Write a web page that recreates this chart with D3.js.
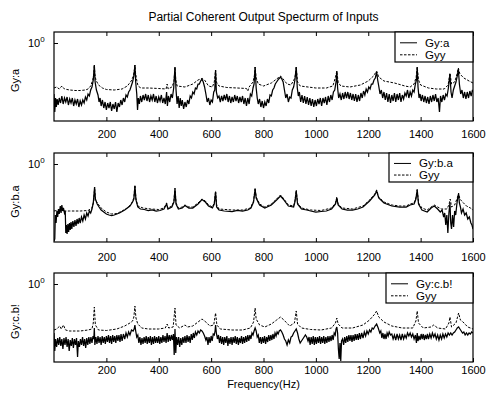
<!DOCTYPE html>
<html><head><meta charset="utf-8">
<script src="https://cdn.jsdelivr.net/npm/d3@7"></script>
<style>body{margin:0;background:#fff}text{font-family:"Liberation Sans",Arial,sans-serif;fill:#000}</style>
</head><body><svg id="c" width="487" height="400"></svg>
<script>
const chartTitle = "Partial Coherent Output Specturm of Inputs";
const xLabel = "Frequency(Hz)";
const xTicks = [200,400,600,800,1000,1200,1400,1600];
const yLabels = ["Gy:a","Gy:b.a","Gy:c.b!"];
const legendNames = [["Gy:a","Gyy"],["Gy:b.a","Gyy"],["Gy:c.b!","Gyy"]];
// spectra in dB re 1 (magnitude = 10^(dB/20)), [frequency Hz, dB]
const gyA = [[0,-10.2],[3,-13.8],[6,-11.0],[9,-12.8],[12,-11.2],[16,-12.4],[20,-11.0],[25,-12.0],[30,-10.6],[35,-12.2],[40,-11.0],[45,-11.8],[50,-10.8],[55,-12.4],[60,-11.2],[65,-12.0],[70,-11.0],[75,-12.6],[80,-11.4],[85,-12.2],[90,-11.2],[95,-12.8],[100,-11.6],[105,-12.4],[110,-11.4],[115,-12.0],[120,-10.8],[125,-11.4],[130,-10.2],[135,-10.6],[140,-9.4],[145,-8.8],[150,-7.4],[154,-4.4],[157,-7.8],[162,-9.4],[168,-10.4],[172,-11.8],[176,-11.0],[180,-12.6],[185,-11.4],[190,-13.0],[195,-11.8],[200,-13.4],[205,-12.0],[210,-13.0],[215,-11.8],[220,-13.6],[225,-12.2],[230,-13.2],[235,-11.8],[240,-13.8],[245,-12.0],[250,-12.8],[255,-11.4],[260,-12.4],[265,-11.0],[270,-11.8],[275,-10.4],[280,-10.8],[285,-9.8],[290,-9.4],[295,-8.6],[300,-7.8],[305,-6.6],[309,-4.4],[312,-7.8],[316,-10.2],[319,-13.4],[322,-11.0],[326,-12.2],[330,-10.6],[335,-11.8],[340,-10.4],[345,-11.4],[350,-10.2],[355,-11.6],[360,-10.4],[365,-11.8],[370,-10.6],[375,-11.4],[380,-10.2],[385,-11.8],[390,-10.6],[395,-12.0],[400,-10.8],[405,-11.6],[410,-10.4],[415,-12.0],[420,-11.0],[425,-12.2],[430,-9.8],[433,-12.6],[437,-10.6],[442,-11.8],[447,-10.2],[452,-11.0],[457,-9.0],[462,-4.8],[466,-9.4],[470,-12.2],[474,-10.6],[478,-13.0],[482,-11.0],[486,-12.6],[490,-11.4],[495,-13.2],[500,-11.8],[505,-12.8],[510,-11.4],[515,-12.2],[520,-10.6],[525,-11.0],[530,-9.8],[535,-10.2],[540,-9.0],[545,-9.2],[550,-8.2],[555,-8.2],[560,-7.6],[565,-7.2],[570,-7.8],[575,-8.8],[580,-10.2],[585,-11.8],[590,-11.0],[595,-12.4],[600,-11.4],[605,-11.8],[610,-9.8],[614,-9.4],[617,-5.4],[620,-9.8],[625,-11.0],[630,-10.6],[635,-11.8],[640,-10.6],[645,-11.6],[650,-10.4],[655,-11.4],[660,-10.2],[665,-11.8],[670,-10.6],[675,-12.0],[680,-10.8],[685,-11.8],[690,-10.4],[695,-11.6],[700,-10.6],[705,-12.0],[710,-10.8],[715,-11.8],[720,-10.6],[725,-12.2],[730,-11.0],[735,-12.6],[740,-11.0],[745,-12.2],[750,-10.2],[755,-10.6],[760,-9.0],[764,-8.2],[768,-4.8],[772,-9.0],[776,-11.0],[780,-12.2],[785,-11.2],[790,-12.8],[795,-11.6],[800,-13.0],[805,-11.8],[810,-12.6],[815,-11.2],[820,-12.0],[825,-10.4],[830,-10.6],[835,-9.4],[840,-9.0],[845,-8.2],[850,-7.8],[858,-7.2],[865,-6.8],[870,-7.2],[875,-7.8],[880,-9.4],[885,-11.0],[890,-10.2],[895,-11.8],[900,-10.8],[905,-11.0],[910,-9.4],[915,-8.8],[920,-7.4],[925,-4.8],[929,-9.0],[933,-10.6],[937,-9.8],[942,-11.8],[947,-10.4],[952,-12.0],[957,-10.6],[962,-12.2],[967,-10.8],[972,-12.4],[977,-11.0],[982,-12.6],[987,-11.2],[992,-12.8],[997,-11.4],[1002,-12.6],[1007,-11.2],[1012,-12.2],[1017,-11.0],[1022,-12.6],[1027,-11.0],[1032,-12.0],[1037,-10.8],[1042,-12.4],[1047,-10.6],[1052,-11.8],[1057,-10.4],[1062,-11.4],[1067,-9.8],[1072,-9.4],[1077,-7.8],[1080,-5.6],[1083,-9.0],[1087,-11.0],[1092,-10.2],[1097,-11.4],[1102,-10.0],[1107,-11.2],[1112,-9.8],[1117,-11.0],[1122,-9.8],[1127,-11.2],[1132,-10.0],[1137,-11.4],[1142,-10.2],[1147,-11.6],[1152,-10.2],[1157,-11.8],[1162,-10.4],[1167,-11.6],[1172,-10.0],[1177,-11.0],[1182,-9.6],[1187,-10.4],[1192,-9.2],[1197,-9.8],[1202,-8.8],[1207,-9.2],[1212,-8.2],[1217,-8.2],[1222,-7.4],[1227,-7.0],[1232,-5.8],[1236,-7.4],[1240,-8.6],[1245,-10.2],[1250,-9.4],[1255,-11.0],[1260,-9.8],[1265,-11.4],[1270,-10.0],[1275,-11.8],[1280,-10.2],[1285,-12.0],[1290,-10.4],[1295,-11.6],[1300,-10.0],[1305,-11.8],[1310,-10.2],[1315,-11.4],[1320,-10.0],[1325,-11.8],[1330,-10.4],[1335,-11.2],[1340,-10.0],[1345,-10.6],[1350,-9.4],[1355,-11.0],[1360,-9.8],[1365,-10.6],[1370,-9.4],[1375,-9.8],[1380,-8.2],[1384,-7.4],[1387,-4.8],[1390,-8.8],[1394,-11.0],[1398,-10.2],[1402,-11.6],[1407,-10.4],[1412,-11.8],[1417,-10.6],[1422,-12.0],[1427,-10.8],[1432,-12.2],[1437,-10.6],[1442,-11.8],[1447,-10.4],[1452,-11.6],[1457,-10.2],[1462,-11.8],[1467,-11.0],[1472,-13.8],[1476,-10.6],[1481,-11.8],[1486,-10.4],[1491,-11.4],[1496,-10.2],[1501,-10.6],[1506,-9.0],[1512,-6.2],[1516,-9.8],[1520,-11.0],[1525,-9.4],[1530,-8.6],[1535,-7.8],[1540,-6.6],[1544,-5.2],[1548,-8.2],[1553,-10.2],[1558,-9.4],[1563,-11.0],[1568,-9.8],[1573,-11.2],[1578,-9.8],[1583,-11.0],[1588,-9.6],[1593,-10.6],[1598,-9.4],[1600,-9.8]];
const gyyA = [[0,-9.0],[10,-8.8],[20,-9.2],[30,-8.6],[40,-9.2],[60,-9.4],[80,-9.5],[100,-9.5],[120,-9.4],[130,-9.2],[140,-8.6],[148,-7.4],[152,-6.2],[154,-4.4],[156,-6.2],[160,-7.4],[170,-8.4],[185,-9.0],[200,-9.3],[230,-9.4],[260,-9.2],[280,-8.6],[295,-7.6],[303,-6.6],[307,-5.4],[309,-4.4],[311,-5.8],[315,-7.2],[320,-8.4],[330,-9.0],[360,-9.0],[400,-9.1],[428,-9.2],[432,-8.2],[436,-9.2],[450,-8.8],[458,-7.8],[462,-4.8],[465,-7.4],[470,-8.6],[500,-8.8],[530,-8.2],[550,-7.4],[565,-7.1],[575,-7.4],[590,-8.6],[605,-8.8],[612,-7.8],[617,-5.4],[620,-7.8],[630,-8.6],[660,-8.9],[700,-9.0],[735,-9.1],[740,-9.6],[745,-8.8],[760,-7.8],[765,-6.6],[768,-4.8],[772,-7.0],[780,-8.2],[800,-8.6],[830,-8.0],[850,-7.2],[865,-6.6],[875,-7.2],[890,-8.2],[905,-8.4],[920,-7.0],[925,-4.8],[930,-7.8],[940,-8.6],[970,-8.8],[1000,-9.0],[1040,-9.0],[1065,-8.6],[1075,-6.8],[1080,-5.6],[1085,-7.8],[1095,-8.6],[1130,-8.8],[1170,-8.4],[1200,-7.6],[1220,-6.6],[1232,-5.6],[1240,-6.8],[1260,-7.6],[1300,-8.0],[1340,-8.6],[1360,-8.8],[1375,-8.2],[1383,-6.8],[1387,-4.8],[1392,-7.4],[1400,-8.4],[1430,-9.0],[1460,-9.2],[1490,-9.2],[1505,-8.4],[1512,-6.0],[1518,-8.2],[1530,-7.8],[1538,-6.4],[1544,-5.0],[1550,-6.2],[1565,-7.0],[1585,-7.6],[1600,-8.0]];
const gyBA = [[0,-15.4],[3,-15.0],[5,-10.2],[8,-11.8],[11,-9.4],[14,-10.6],[17,-9.0],[20,-10.0],[24,-8.4],[27,-9.8],[30,-8.2],[33,-9.4],[36,-8.8],[40,-9.8],[43,-9.4],[45,-13.8],[47,-12.2],[50,-14.0],[53,-12.0],[56,-13.6],[59,-11.8],[62,-13.2],[65,-11.6],[68,-13.0],[72,-11.4],[76,-12.6],[80,-11.2],[84,-12.4],[88,-11.0],[92,-12.0],[96,-10.8],[100,-11.8],[105,-10.6],[110,-11.4],[115,-10.2],[120,-11.0],[125,-9.8],[130,-10.4],[135,-9.4],[140,-9.8],[145,-9.0],[150,-7.8],[155,-4.6],[158,-7.0],[165,-8.0],[172,-8.6],[180,-9.2],[190,-9.6],[200,-10.0],[210,-10.2],[220,-10.3],[230,-10.2],[240,-10.0],[250,-9.8],[260,-9.5],[270,-9.2],[280,-8.8],[290,-8.4],[300,-7.6],[305,-7.0],[309,-4.4],[313,-7.2],[320,-8.6],[330,-9.0],[345,-9.1],[360,-9.3],[375,-9.2],[390,-9.4],[405,-9.3],[420,-9.0],[430,-8.0],[435,-9.0],[450,-8.6],[458,-7.6],[462,-5.0],[466,-8.0],[475,-9.0],[490,-8.8],[500,-8.3],[515,-8.8],[530,-8.8],[550,-8.0],[565,-7.1],[578,-7.6],[590,-8.4],[605,-8.8],[612,-8.0],[617,-5.6],[621,-8.6],[630,-9.2],[650,-9.4],[680,-9.5],[700,-9.3],[720,-9.4],[740,-9.2],[752,-8.8],[762,-7.6],[768,-5.0],[772,-6.8],[785,-8.2],[805,-8.8],[830,-8.2],[850,-7.2],[865,-6.4],[875,-7.0],[895,-8.4],[915,-8.6],[920,-7.6],[925,-5.4],[930,-8.0],[945,-9.0],[965,-9.2],[980,-9.4],[1000,-9.6],[1020,-9.5],[1040,-9.4],[1060,-9.0],[1075,-8.0],[1080,-6.8],[1085,-8.2],[1100,-9.0],[1120,-9.2],[1140,-9.2],[1160,-9.0],[1180,-8.6],[1205,-7.4],[1225,-6.2],[1232,-5.4],[1240,-6.8],[1260,-7.8],[1290,-8.4],[1320,-8.6],[1345,-8.6],[1360,-8.2],[1375,-8.0],[1382,-7.0],[1387,-5.2],[1392,-8.0],[1405,-9.2],[1425,-9.6],[1440,-8.8],[1452,-8.4],[1465,-9.0],[1475,-9.6],[1482,-9.2],[1488,-10.6],[1492,-9.8],[1496,-12.2],[1500,-10.2],[1504,-13.8],[1508,-9.8],[1512,-7.8],[1515,-11.8],[1518,-13.0],[1522,-10.2],[1526,-12.6],[1530,-9.4],[1534,-10.2],[1538,-8.2],[1542,-6.6],[1545,-6.0],[1548,-7.8],[1552,-8.6],[1556,-9.8],[1562,-9.0],[1568,-10.2],[1574,-9.8],[1580,-11.0],[1586,-10.6],[1592,-11.8],[1596,-12.2],[1600,-13.0]];
const gyyB = [[0,-9.4],[20,-9.2],[30,-8.8],[40,-9.4],[60,-9.4],[100,-9.4],[130,-9.3],[145,-8.8],[152,-7.4],[155,-4.6],[158,-7.0],[165,-7.8],[180,-8.8],[200,-9.6],[220,-10.0],[240,-9.9],[260,-9.4],[280,-8.8],[295,-8.0],[305,-6.8],[309,-4.2],[313,-7.0],[320,-8.4],[340,-8.8],[370,-9.0],[400,-9.1],[420,-8.8],[430,-7.8],[435,-8.8],[450,-8.4],[458,-7.4],[462,-4.8],[466,-7.8],[475,-8.8],[490,-8.6],[500,-8.2],[515,-8.6],[530,-8.6],[550,-7.8],[565,-7.0],[578,-7.4],[590,-8.2],[605,-8.6],[612,-7.8],[617,-5.4],[621,-8.2],[630,-9.0],[680,-9.2],[720,-9.2],[750,-8.8],[762,-7.4],[768,-4.8],[772,-6.6],[785,-8.0],[805,-8.6],[830,-8.0],[850,-7.0],[865,-6.2],[875,-6.8],[895,-8.2],[915,-8.4],[920,-7.4],[925,-5.2],[930,-7.8],[945,-8.8],[980,-9.2],[1020,-9.3],[1060,-8.8],[1075,-7.8],[1080,-6.6],[1085,-8.0],[1100,-8.8],[1140,-9.0],[1180,-8.4],[1205,-7.2],[1225,-6.0],[1232,-5.2],[1240,-6.6],[1260,-7.6],[1290,-8.2],[1320,-8.4],[1345,-8.4],[1360,-8.0],[1375,-7.8],[1382,-6.8],[1387,-5.0],[1392,-7.8],[1405,-8.8],[1425,-9.2],[1440,-8.6],[1452,-8.2],[1465,-8.6],[1480,-9.0],[1500,-9.0],[1508,-8.2],[1513,-7.0],[1518,-8.6],[1530,-8.2],[1540,-6.8],[1545,-5.8],[1550,-7.0],[1560,-7.6],[1575,-8.4],[1590,-8.8],[1600,-9.2]];
const gyCB = [[0,-9.8],[3,-13.4],[6,-11.0],[10,-12.6],[14,-10.8],[18,-12.2],[22,-10.6],[26,-12.4],[30,-11.0],[34,-13.0],[38,-10.8],[42,-12.2],[46,-10.6],[50,-12.6],[54,-11.0],[58,-13.4],[62,-11.2],[66,-12.4],[70,-10.8],[74,-12.8],[78,-11.0],[82,-12.2],[86,-10.8],[90,-14.6],[93,-11.4],[97,-12.6],[101,-11.0],[105,-12.2],[109,-10.6],[113,-12.4],[117,-11.0],[121,-12.8],[125,-10.8],[129,-12.2],[133,-10.6],[137,-12.0],[141,-10.6],[145,-11.8],[149,-10.4],[152,-11.0],[154,-8.8],[156,-12.2],[160,-10.6],[164,-12.0],[168,-10.4],[172,-11.8],[176,-10.6],[180,-12.2],[184,-10.4],[188,-11.8],[192,-10.6],[196,-12.0],[200,-10.4],[204,-11.6],[208,-10.2],[212,-11.8],[216,-10.4],[220,-12.0],[224,-10.2],[228,-11.6],[232,-10.4],[236,-11.8],[240,-10.2],[244,-11.4],[248,-10.2],[252,-11.6],[256,-10.0],[260,-11.4],[265,-10.0],[270,-11.0],[275,-9.8],[280,-10.6],[285,-9.6],[290,-10.2],[296,-9.2],[302,-9.4],[306,-9.0],[309,-8.2],[312,-9.4],[316,-10.6],[320,-10.2],[324,-11.8],[328,-10.6],[332,-12.2],[336,-10.8],[340,-12.0],[344,-10.6],[348,-11.8],[352,-10.4],[356,-12.0],[360,-10.6],[364,-11.8],[368,-10.4],[372,-12.2],[376,-10.6],[380,-12.0],[384,-10.4],[388,-11.8],[392,-10.6],[396,-11.8],[400,-10.4],[404,-12.0],[408,-10.6],[412,-11.8],[416,-10.2],[420,-11.6],[424,-10.4],[428,-11.8],[432,-9.8],[436,-11.6],[440,-10.2],[444,-11.4],[448,-10.2],[452,-11.2],[456,-10.0],[459,-14.2],[462,-9.0],[465,-13.8],[468,-10.6],[472,-12.2],[476,-10.6],[480,-12.6],[484,-10.8],[488,-12.2],[492,-10.6],[496,-11.8],[500,-10.4],[504,-11.8],[508,-10.2],[512,-11.6],[516,-10.4],[520,-11.8],[524,-10.0],[528,-11.2],[532,-9.8],[536,-10.8],[540,-9.6],[545,-10.2],[550,-9.4],[555,-9.8],[560,-9.2],[565,-9.4],[570,-9.8],[575,-10.4],[580,-11.2],[584,-10.6],[588,-12.2],[592,-10.6],[596,-11.8],[600,-10.4],[604,-11.4],[608,-10.0],[612,-10.2],[615,-9.4],[617,-8.2],[620,-9.8],[624,-11.0],[628,-10.2],[632,-11.8],[636,-10.4],[640,-12.0],[644,-10.6],[648,-12.2],[652,-10.6],[656,-11.8],[660,-10.4],[664,-12.4],[668,-10.8],[672,-12.0],[676,-10.6],[680,-12.2],[684,-10.6],[688,-11.8],[692,-10.4],[696,-12.0],[700,-10.6],[704,-12.2],[708,-10.8],[712,-11.8],[716,-10.4],[720,-12.0],[724,-10.6],[728,-11.8],[732,-10.4],[736,-11.6],[740,-10.2],[744,-11.4],[748,-10.2],[752,-11.0],[756,-9.8],[760,-10.2],[764,-9.4],[768,-8.8],[772,-9.4],[776,-10.6],[780,-10.2],[784,-11.8],[788,-10.6],[792,-12.0],[796,-10.6],[800,-11.8],[804,-10.4],[808,-12.0],[812,-10.6],[816,-11.6],[820,-10.2],[824,-11.4],[828,-10.2],[832,-11.2],[836,-10.0],[840,-11.0],[844,-9.8],[848,-10.4],[852,-9.6],[856,-10.0],[860,-9.4],[865,-9.2],[870,-9.6],[875,-10.2],[880,-11.0],[885,-11.4],[890,-12.2],[895,-11.2],[900,-11.8],[905,-10.6],[910,-10.4],[915,-9.8],[920,-9.4],[925,-9.0],[930,-9.8],[935,-11.0],[940,-11.8],[945,-11.4],[950,-11.0],[955,-10.6],[960,-10.2],[965,-10.6],[970,-11.4],[974,-10.6],[978,-12.2],[982,-10.6],[986,-12.0],[990,-10.4],[994,-12.2],[998,-10.6],[1002,-12.0],[1006,-10.6],[1010,-11.8],[1014,-10.4],[1018,-12.0],[1022,-10.6],[1026,-11.8],[1030,-10.4],[1034,-12.0],[1038,-10.6],[1042,-11.8],[1046,-10.4],[1050,-11.6],[1054,-10.4],[1058,-11.4],[1062,-10.2],[1066,-11.2],[1070,-9.8],[1074,-10.2],[1077,-9.0],[1080,-8.6],[1083,-9.8],[1086,-13.0],[1089,-15.0],[1092,-11.8],[1095,-15.4],[1098,-11.4],[1102,-11.0],[1106,-12.2],[1110,-10.6],[1114,-11.8],[1118,-10.4],[1122,-11.6],[1126,-10.2],[1130,-11.4],[1134,-10.2],[1138,-11.6],[1142,-10.2],[1146,-11.4],[1150,-10.0],[1154,-11.2],[1158,-10.0],[1162,-11.2],[1166,-9.8],[1170,-11.0],[1175,-9.8],[1180,-10.8],[1185,-9.6],[1190,-10.4],[1195,-9.4],[1200,-10.0],[1205,-9.2],[1210,-9.6],[1215,-8.8],[1220,-9.0],[1226,-8.4],[1232,-8.0],[1238,-8.8],[1244,-9.8],[1248,-9.4],[1252,-10.8],[1256,-9.8],[1260,-11.0],[1264,-10.0],[1268,-11.0],[1272,-9.8],[1276,-10.4],[1280,-9.6],[1285,-10.2],[1290,-10.0],[1295,-11.0],[1300,-10.2],[1305,-11.2],[1310,-10.0],[1315,-11.0],[1320,-10.2],[1325,-11.2],[1330,-10.0],[1335,-11.0],[1340,-10.2],[1345,-10.8],[1350,-9.8],[1355,-10.4],[1360,-9.8],[1365,-10.6],[1370,-10.0],[1375,-11.0],[1380,-10.2],[1384,-11.8],[1387,-9.8],[1390,-11.4],[1394,-10.4],[1398,-11.2],[1402,-10.0],[1406,-11.0],[1410,-10.0],[1414,-11.2],[1418,-10.2],[1422,-11.0],[1426,-10.0],[1430,-11.0],[1435,-10.0],[1440,-10.8],[1445,-9.8],[1450,-10.6],[1455,-10.0],[1460,-11.0],[1465,-10.2],[1470,-11.2],[1475,-10.2],[1480,-11.0],[1485,-10.0],[1490,-10.8],[1495,-10.0],[1500,-10.6],[1505,-9.8],[1510,-10.2],[1515,-9.8],[1520,-10.2],[1525,-9.8],[1530,-9.6],[1535,-9.2],[1540,-8.8],[1545,-8.6],[1550,-9.0],[1555,-9.4],[1560,-9.8],[1565,-9.6],[1570,-10.2],[1575,-9.8],[1580,-10.2],[1585,-9.8],[1590,-10.0],[1595,-9.6],[1600,-9.8]];
const gyyC = [[0,-9.2],[10,-9.0],[22,-8.4],[28,-9.0],[36,-8.2],[44,-9.2],[60,-9.4],[100,-9.4],[130,-9.2],[145,-9.0],[150,-7.8],[154,-4.6],[158,-8.2],[170,-9.2],[200,-9.3],[240,-9.0],[270,-8.4],[290,-7.8],[300,-7.4],[305,-6.6],[309,-4.4],[313,-6.8],[320,-8.0],[335,-8.8],[360,-9.0],[400,-9.0],[425,-8.8],[432,-8.0],[438,-8.8],[455,-8.6],[462,-4.8],[466,-8.2],[480,-8.8],[500,-8.2],[510,-8.6],[530,-8.4],[550,-7.6],[565,-7.0],[580,-7.6],[595,-8.4],[610,-8.2],[617,-5.8],[622,-8.2],[635,-9.0],[680,-9.2],[720,-9.2],[750,-8.8],[762,-7.6],[768,-4.8],[772,-7.0],[785,-8.2],[805,-8.6],[830,-8.0],[850,-7.2],[865,-6.6],[878,-7.2],[900,-8.4],[918,-7.8],[925,-5.4],[930,-8.0],[945,-8.8],[980,-9.1],[1020,-9.2],[1060,-8.8],[1075,-7.8],[1080,-6.8],[1085,-8.0],[1100,-8.8],[1140,-8.8],[1180,-8.2],[1205,-7.2],[1225,-6.0],[1232,-5.4],[1240,-6.6],[1260,-7.6],[1290,-8.4],[1330,-8.8],[1370,-8.8],[1382,-7.4],[1387,-5.4],[1392,-7.8],[1410,-8.8],[1440,-8.6],[1450,-8.2],[1465,-8.8],[1495,-9.0],[1508,-7.8],[1512,-6.6],[1518,-8.6],[1535,-7.8],[1545,-5.8],[1552,-7.2],[1562,-7.6],[1580,-8.6],[1600,-9.0]];
const solidSeries = [gyA, gyBA, gyCB];
const gyySeries = [gyyA, gyyB, gyyC];

const svg = d3.select("#c");
const L = 54, R = 473, H = 89;
const tops = [32, 153, 273];
const dbTop = 2.2, dbBottom = -15.6;
const mag = db => Math.pow(10, db / 20);
const x = d3.scaleLinear().domain([0, 1600]).range([L, R]);

svg.append("text").attr("x", (L + R) / 2).attr("y", 21).attr("text-anchor", "middle")
  .style("font-size", "12px").text(chartTitle);

const legendBoxes = [[395, 62], [389, 182], [386, 303]];
const labelPad = [9, 11, 4];

tops.forEach((top, i) => {
  const y = d3.scaleLog().domain([mag(dbBottom), mag(dbTop)]).range([top + H, top]);
  const g = svg.append("g");
  g.append("clipPath").attr("id", "cp" + i).append("rect")
    .attr("x", L).attr("y", top).attr("width", R - L).attr("height", H);
  const line = d3.line().x(d => x(d[0])).y(d => y(mag(d[1])));
  const plot = g.append("g").attr("clip-path", `url(#cp${i})`);
  plot.append("path").datum(solidSeries[i]).attr("d", line)
    .attr("fill", "none").attr("stroke", "#000").attr("stroke-width", 1.25);
  plot.append("path").datum(gyySeries[i]).attr("d", line)
    .attr("fill", "none").attr("stroke", "#000").attr("stroke-width", 1)
    .attr("stroke-dasharray", "2.5,1.5");

  // axes
  const ax = g.append("g").attr("transform", `translate(0,${top + H})`)
    .call(d3.axisBottom(x).tickValues(xTicks).tickFormat(d3.format("d"))
      .tickSizeInner(-4).tickSizeOuter(0).tickPadding(labelPad[i]));
  ax.select(".domain").remove();
  ax.selectAll("text").style("font-size", "11px").style("font-family", '"Liberation Sans",Arial,sans-serif');
  const axT = g.append("g").attr("transform", `translate(0,${top})`)
    .call(d3.axisTop(x).tickValues(xTicks).tickSizeInner(-4).tickSizeOuter(0).tickFormat(""));
  axT.select(".domain").remove();
  const axL = g.append("g").attr("transform", `translate(${L},0)`)
    .call(d3.axisLeft(y).tickValues([1]).tickSizeInner(-4).tickSizeOuter(0).tickFormat(""));
  axL.select(".domain").remove();
  const axR = g.append("g").attr("transform", `translate(${R},0)`)
    .call(d3.axisRight(y).tickValues([1]).tickSizeInner(-4).tickSizeOuter(0).tickFormat(""));
  axR.select(".domain").remove();
  g.selectAll(".tick line").attr("stroke", "#000");

  const t = g.append("text").attr("x", 28).attr("y", y(1) + 4).style("font-size", "11px");
  t.append("tspan").text("10");
  t.append("tspan").attr("dy", -5).style("font-size", "8px").text("0");

  g.append("rect").attr("x", L).attr("y", top).attr("width", R - L).attr("height", H)
    .attr("fill", "none").attr("stroke", "#000").attr("stroke-width", 1.2);

  g.append("text").attr("transform", `translate(19,${top + H / 2 + 4}) rotate(-90)`)
    .attr("text-anchor", "middle").style("font-size", "11px").text(yLabels[i]);

  // legend
  const [lx, lb] = legendBoxes[i];
  g.append("rect").attr("x", lx).attr("y", top).attr("width", R - lx).attr("height", lb - top)
    .attr("fill", "#fff").attr("stroke", "#000").attr("stroke-width", 1.2);
  const rowY = [top + (lb - top) * 0.36, top + (lb - top) * 0.76];
  legendNames[i].forEach((name, k) => {
    g.append("line").attr("x1", lx + 5).attr("x2", lx + 22).attr("y1", rowY[k]).attr("y2", rowY[k])
      .attr("stroke", "#000").attr("stroke-width", 1).attr("stroke-dasharray", k ? "2.5,1.5" : null);
    g.append("text").attr("x", lx + 30).attr("y", rowY[k] + 4).style("font-size", "11.5px").text(name);
  });
});

svg.append("text").attr("x", (L + R) / 2).attr("y", 388).attr("text-anchor", "middle")
  .style("font-size", "11px").text(xLabel);
</script></body></html>
